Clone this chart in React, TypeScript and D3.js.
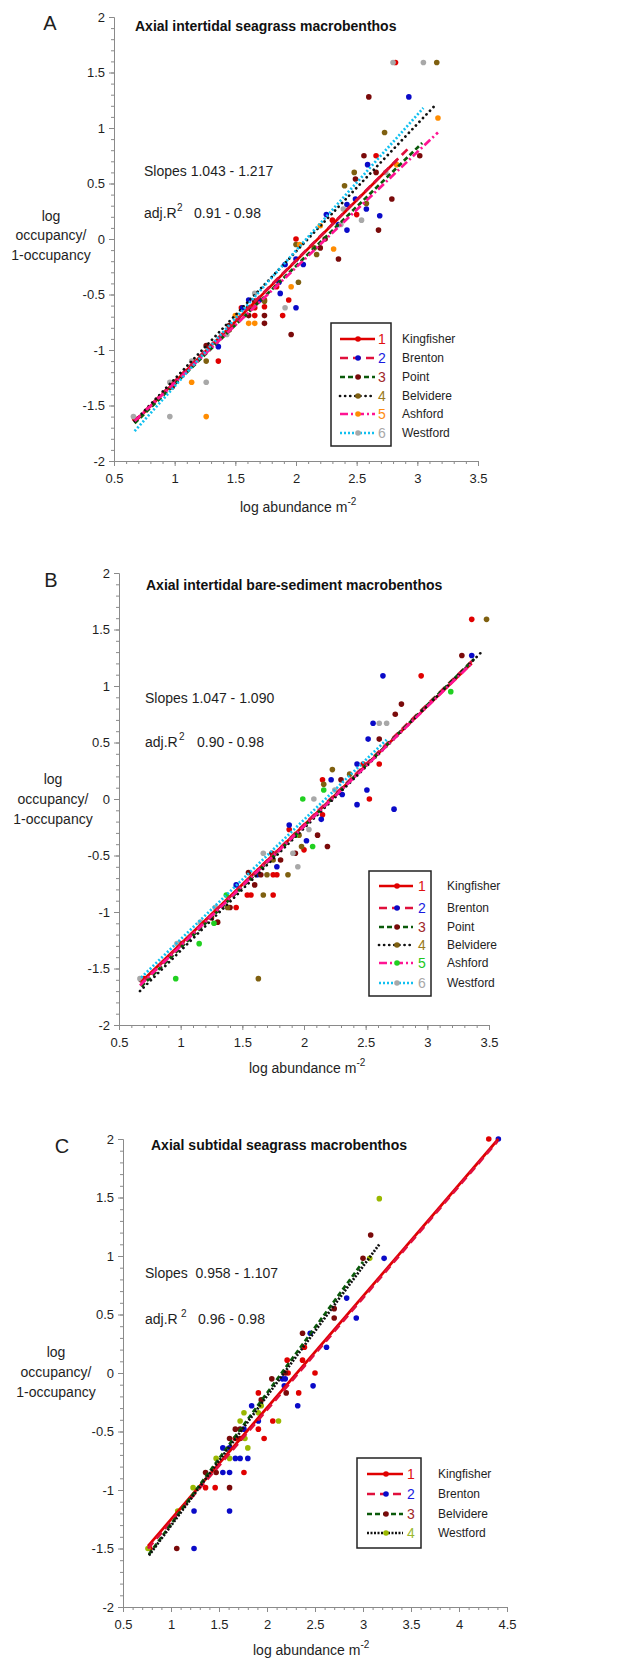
import React, { useEffect, useRef } from 'react';
import * as d3 from 'd3';

type Pt = [number, number];

// ---- A: axial intertidal seagrass ----
const sgKingfisher: Pt[] = [[0.67, -1.62], [1.36, -1.1], [1.55, -0.62], [1.66, -0.69], [1.66, -0.62], [1.74, -0.55], [1.74, -0.61], [1.84, -0.43], [1.89, -0.69], [1.94, -0.55], [2.0, 0.0], [2.3, 0.17], [2.5, 0.22], [2.66, 0.75], [2.82, 1.59]];
const sgBrenton: Pt[] = [[1.36, -0.97], [1.56, -0.62], [1.61, -0.55], [1.7, -0.55], [1.86, -0.39], [1.87, -0.49], [2.0, -0.62], [1.91, -0.23], [2.06, -0.23], [2.0, -0.18], [2.25, 0.22], [2.35, 0.13], [2.42, 0.08], [2.42, 0.31], [2.49, 0.36], [2.58, 0.27], [2.69, 0.21], [2.59, 0.67], [2.93, 1.28]];
const sgPoint: Pt[] = [[0.98, -1.33], [1.26, -0.96], [1.45, -0.78], [1.61, -0.62], [1.61, -0.69], [1.66, -0.56], [1.74, -0.69], [1.74, -0.76], [1.96, -0.86], [2.24, 0.0], [2.2, -0.08], [2.35, -0.18], [2.49, 0.54], [2.56, 0.75], [2.66, 0.6], [2.68, 0.08], [2.79, 0.36], [3.02, 0.75], [2.6, 1.28]];
const sgBelvidere: Pt[] = [[1.26, -1.1], [1.45, -0.82], [1.74, -0.56], [2.0, -0.05], [2.02, -0.39], [2.15, -0.08], [2.17, -0.14], [2.4, 0.48], [2.48, 0.6], [2.58, 0.32], [2.73, 0.96], [3.16, 1.59]];
const sgAshford: Pt[] = [[1.14, -1.29], [1.26, -1.6], [1.5, -0.69], [1.61, -0.76], [1.66, -0.76], [1.96, -0.43], [2.03, -0.05], [2.2, 0.12], [2.31, -0.09], [2.83, 0.67], [3.17, 1.09]];
const sgWestford: Pt[] = [[0.66, -1.6], [0.96, -1.29], [0.96, -1.6], [1.14, -1.1], [1.26, -1.29], [1.43, -0.86], [1.66, -0.49], [1.91, -0.62], [2.37, 0.13], [2.39, 0.27], [2.54, 0.17], [2.74, 0.6], [2.8, 1.59], [3.05, 1.59]];
// fitted lines: [start, end]
const sgFits: Pt[][] = [
  [[0.67, -1.65], [2.83, 0.71]],
  [[0.67, -1.64], [2.93, 0.82]],
  [[0.67, -1.66], [3.04, 0.865]],
  [[0.67, -1.64], [3.16, 1.22]],
  [[0.67, -1.64], [3.17, 0.96]],
  [[0.67, -1.73], [3.05, 1.18]],
];

// ---- B: axial intertidal bare sediment ----
const bsKingfisher: Pt[] = [[3.36, 1.59], [2.95, 1.09], [2.61, 0.31], [2.48, 0.31], [2.15, 0.17], [2.53, 0.0], [2.15, -0.14], [1.88, -0.27], [1.75, -0.67], [1.78, -0.67], [1.54, -0.85], [1.57, -0.85], [1.75, -0.85], [1.45, -0.96], [1.0, -1.28], [0.7, -1.59], [2.0, -0.45], [1.25, -1.05]];
const bsBrenton: Pt[] = [[3.36, 1.27], [2.64, 1.09], [2.56, 0.67], [2.52, 0.53], [2.43, 0.31], [2.22, 0.17], [2.51, 0.08], [2.31, 0.04], [2.43, -0.05], [2.73, -0.09], [2.14, -0.18], [1.88, -0.23], [2.02, -0.37], [1.78, -0.6], [1.62, -0.67], [1.45, -0.76]];
const bsPoint: Pt[] = [[3.28, 1.27], [2.79, 0.84], [2.74, 0.75], [2.61, 0.53], [2.3, 0.17], [2.11, -0.32], [2.19, -0.42], [1.74, -0.48], [1.93, -0.48], [1.81, -0.54], [1.65, -0.67], [1.6, -0.76], [1.4, -0.96], [1.3, -1.09], [0.68, -1.6], [1.55, -0.65]];
const bsBelvidere: Pt[] = [[3.48, 1.59], [2.23, 0.26], [2.37, 0.22], [2.16, 0.13], [1.96, -0.32], [1.98, -0.42], [1.75, -0.54], [1.7, -0.67], [1.87, -0.67], [1.67, -0.85], [1.38, -0.96], [1.63, -1.59]];
const bsAshford: Pt[] = [[3.19, 0.95], [2.16, 0.08], [1.99, 0.0], [1.93, -0.32], [2.07, -0.42], [1.37, -0.85], [1.27, -1.1], [1.15, -1.28], [0.96, -1.59]];
const bsWestford: Pt[] = [[2.61, 0.67], [2.67, 0.67], [2.25, 0.08], [2.08, 0.0], [2.04, -0.27], [1.67, -0.48], [1.91, -0.48], [1.95, -0.6], [1.28, -0.96], [1.16, -1.09], [0.97, -1.28], [0.67, -1.59]];
const bsFits: Pt[][] = [
  [[0.68, -1.62], [3.36, 1.2]],
  [[0.68, -1.63], [3.36, 1.22]],
  [[0.68, -1.66], [3.38, 1.24]],
  [[0.67, -1.7], [3.43, 1.29]],
  [[0.67, -1.65], [3.36, 1.2]],
  [[0.68, -1.58], [2.67, 0.525]],
];

// ---- C: axial subtidal seagrass ----
const stKingfisher: Pt[] = [[4.31, 2.0], [2.39, 0.22], [2.21, 0.11], [2.37, 0.11], [2.22, 0.0], [2.5, 0.0], [1.91, -0.17], [2.33, -0.17], [2.06, -0.41], [1.91, -0.48], [1.67, -0.56], [1.97, -0.56], [1.76, -0.85], [1.46, -0.98], [1.36, -0.98], [0.78, -1.5]];
const stBrenton: Pt[] = [[4.41, 2.0], [3.22, 0.98], [2.83, 0.64], [2.93, 0.47], [2.45, 0.34], [2.62, 0.22], [2.16, -0.05], [2.19, -0.05], [2.48, -0.11], [2.18, -0.11], [1.84, -0.28], [2.32, -0.28], [1.91, -0.41], [1.76, -0.48], [1.54, -0.64], [1.61, -0.64], [1.67, -0.73], [1.72, -0.73], [1.8, -0.73], [1.54, -0.85], [1.61, -0.85], [1.24, -1.18], [1.61, -1.18], [1.24, -1.5]];
const stBelvidere: Pt[] = [[3.08, 1.18], [3.0, 0.98], [2.7, 0.55], [2.7, 0.47], [2.37, 0.34], [2.19, 0.0], [2.05, -0.05], [2.2, -0.17], [1.94, -0.23], [1.67, -0.48], [1.72, -0.48], [1.72, -0.56], [1.61, -0.56], [1.36, -0.85], [1.47, -0.85], [1.61, -0.98], [1.06, -1.5]];
const stWestford: Pt[] = [[3.17, 1.49], [3.07, 0.98], [1.94, -0.28], [1.76, -0.34], [1.91, -0.34], [2.12, -0.41], [1.72, -0.41], [1.77, -0.56], [1.8, -0.64], [1.61, -0.73], [1.47, -0.73], [1.23, -0.98], [1.07, -1.18], [0.76, -1.5]];
const stFits: Pt[][] = [
  [[0.76, -1.48], [4.41, 2.0]],
  [[0.76, -1.5], [4.4, 1.98]],
  [[0.77, -1.55], [3.0, 0.95]],
  [[0.77, -1.56], [3.17, 1.1]],
];

const FONT = 'Arial, "Liberation Sans", Helvetica, sans-serif';
const AXIS = '#8a8a8a';
const INK = '#1e1e1e';

type Style = { line: string; dash: string | null; cap: string; marker: string; num: string };
const kingfisherStyle: Style = { line: '#e00000', dash: null, cap: 'butt', marker: '#e00000', num: '#e01010' };
const brentonStyle: Style = { line: '#e0103c', dash: '8,5', cap: 'butt', marker: '#0a0ac8', num: '#1a1ae0' };
const greenStyle: Style = { line: '#0a5a0a', dash: '5,3', cap: 'butt', marker: '#7a0a0a', num: '#a02828' };
const blackSparse: Style = { line: '#111', dash: '0.1,5', cap: 'round', marker: '#7f6010', num: '#9a7a20' };
const pinkStyle = (m: string, n: string): Style => ({ line: '#ff1493', dash: '8,3,2,3', cap: 'butt', marker: m, num: n });
const cyanStyle: Style = { line: '#10c0f0', dash: '2,2', cap: 'butt', marker: '#a8a8a8', num: '#a8a8a8' };
const blackDense: Style = { line: '#111', dash: '2,1.5', cap: 'butt', marker: '#9ab800', num: '#9ab830' };

const panels = [
  {
    letter: 'A', lx: 50, ly: 30,
    title: 'Axial intertidal seagrass macrobenthos', tx: 135, ty: 31,
    left: 114, right: 478, top: 17, bottom: 461, xMax: 3.5,
    slopes: 'Slopes 1.043 - 1.217', sx: 144, sy: 176, adjY: 218, supX: 177, valX: 194, adj: '0.91 - 0.98',
    ylx: 51, yly: [221, 240, 260], xlx: 240, xly: 512,
    box: [331, 323, 391, 446], lineX: [340, 375], markX: 358, numX: 382, labX: 402,
    rows: [339, 358, 377, 396, 414, 433],
    names: ['Kingfisher', 'Brenton', 'Point', 'Belvidere', 'Ashford', 'Westford'],
    styles: [kingfisherStyle, brentonStyle, greenStyle, blackSparse, pinkStyle('#ff8c00', '#ff8c10'), cyanStyle],
    points: [sgKingfisher, sgBrenton, sgPoint, sgBelvidere, sgAshford, sgWestford],
    fits: sgFits,
  },
  {
    letter: 'B', lx: 51, ly: 587,
    title: 'Axial intertidal bare-sediment macrobenthos', tx: 146, ty: 590,
    left: 119, right: 489, top: 573, bottom: 1025, xMax: 3.5,
    slopes: 'Slopes 1.047 - 1.090', sx: 145, sy: 703, adjY: 747, supX: 179, valX: 197, adj: '0.90 - 0.98',
    ylx: 53, yly: [784, 804, 824], xlx: 249, xly: 1073,
    box: [369, 871, 431, 996], lineX: [379, 413], markX: 397, numX: 422, labX: 447,
    rows: [886, 908, 927, 945, 963, 983],
    names: ['Kingfisher', 'Brenton', 'Point', 'Belvidere', 'Ashford', 'Westford'],
    styles: [kingfisherStyle, brentonStyle, greenStyle, blackSparse, pinkStyle('#20d020', '#20c820'), cyanStyle],
    points: [bsKingfisher, bsBrenton, bsPoint, bsBelvidere, bsAshford, bsWestford],
    fits: bsFits,
  },
  {
    letter: 'C', lx: 62, ly: 1153,
    title: 'Axial subtidal seagrass macrobenthos', tx: 151, ty: 1150,
    left: 123, right: 507, top: 1139, bottom: 1607, xMax: 4.5,
    slopes: 'Slopes  0.958 - 1.107', sx: 145, sy: 1278, adjY: 1324, supX: 181, valX: 198, adj: '0.96 - 0.98',
    ylx: 56, yly: [1357, 1377, 1397], xlx: 253, xly: 1655,
    box: [357, 1458, 421, 1548], lineX: [367, 403], markX: 386, numX: 411, labX: 438,
    rows: [1474, 1494, 1514, 1533],
    names: ['Kingfisher', 'Brenton', 'Belvidere', 'Westford'],
    styles: [kingfisherStyle, brentonStyle, greenStyle, blackDense],
    points: [stKingfisher, stBrenton, stBelvidere, stWestford],
    fits: stFits,
  },
];

function drawPanel(svg: any, p: any) {
  const x = d3.scaleLinear().domain([0.5, p.xMax]).range([p.left, p.right]);
  const y = d3.scaleLinear().domain([-2, 2]).range([p.bottom, p.top]);
  const g = svg.append('g').style('font-family', FONT);

  const xMinor = d3.range(5, Math.round(p.xMax * 10) + 1).map((v) => v / 10);
  const yMinor = d3.range(-20, 21).map((v) => v / 10);
  const xMajor = d3.range(1, Math.round(p.xMax * 2) + 1).map((v) => v / 2);
  const yMajor = d3.range(-4, 5).map((v) => v / 2);
  const fmt = (d: any) => String(d);

  g.append('g')
    .attr('transform', `translate(0,${p.bottom})`)
    .call(d3.axisBottom(x).tickValues(xMinor).tickSize(3).tickSizeOuter(0).tickFormat(() => ''));
  g.append('g')
    .attr('transform', `translate(0,${p.bottom})`)
    .call(d3.axisBottom(x).tickValues(xMajor).tickSize(5).tickPadding(8).tickSizeOuter(0).tickFormat(fmt));
  g.append('g')
    .attr('transform', `translate(${p.left},0)`)
    .call(d3.axisLeft(y).tickValues(yMinor).tickSize(3).tickSizeOuter(0).tickFormat(() => ''));
  g.append('g')
    .attr('transform', `translate(${p.left},0)`)
    .call(d3.axisLeft(y).tickValues(yMajor).tickSize(5).tickPadding(4).tickSizeOuter(0).tickFormat(fmt));

  g.selectAll('.domain, .tick line').attr('stroke', AXIS);
  g.selectAll('.tick text').attr('fill', INK).style('font-size', '13px').style('font-family', FONT);

  // points
  p.points.forEach((pts: Pt[], i: number) => {
    g.append('g')
      .selectAll('circle')
      .data(pts)
      .join('circle')
      .attr('cx', (d: Pt) => x(d[0]))
      .attr('cy', (d: Pt) => y(d[1]))
      .attr('r', 2.8)
      .attr('fill', p.styles[i].marker);
  });

  // fitted lines
  const line = d3.line<Pt>().x((d) => x(d[0])).y((d) => y(d[1]));
  p.fits.forEach((f: Pt[], i: number) => {
    const s: Style = p.styles[i];
    g.append('path')
      .attr('d', line(f))
      .attr('fill', 'none')
      .attr('stroke', s.line)
      .attr('stroke-width', 2.7)
      .attr('stroke-linecap', s.cap)
      .attr('stroke-dasharray', s.dash);
  });

  // texts
  g.append('text').attr('x', p.lx).attr('y', p.ly).attr('text-anchor', 'middle')
    .style('font-size', '20px').attr('fill', INK).text(p.letter);
  g.append('text').attr('x', p.tx).attr('y', p.ty)
    .style('font-size', '14px').style('font-weight', 'bold').attr('fill', '#111').text(p.title);
  g.append('text').attr('x', p.sx).attr('y', p.sy)
    .style('font-size', '14px').style('white-space', 'pre').attr('fill', INK).text(p.slopes);
  g.append('text').attr('x', p.sx).attr('y', p.adjY)
    .style('font-size', '14px').attr('fill', INK).text('adj.R');
  g.append('text').attr('x', p.supX).attr('y', p.adjY - 7)
    .style('font-size', '10px').attr('fill', INK).text('2');
  g.append('text').attr('x', p.valX).attr('y', p.adjY)
    .style('font-size', '14px').attr('fill', INK).text(p.adj);

  ['log', 'occupancy/', '1-occupancy'].forEach((t, i) => {
    g.append('text').attr('x', p.ylx).attr('y', p.yly[i]).attr('text-anchor', 'middle')
      .style('font-size', '14px').attr('fill', INK).text(t);
  });

  const xl = g.append('text').attr('x', p.xlx).attr('y', p.xly)
    .style('font-size', '14px').attr('fill', INK);
  xl.append('tspan').text('log abundance m');
  xl.append('tspan').attr('dy', -7).style('font-size', '10px').text('-2');

  // legend
  const [bx0, by0, bx1, by1] = p.box;
  g.append('rect').attr('x', bx0).attr('y', by0).attr('width', bx1 - bx0).attr('height', by1 - by0)
    .attr('fill', '#fff').attr('stroke', '#222').attr('stroke-width', 1.5);
  p.names.forEach((name: string, i: number) => {
    const s: Style = p.styles[i];
    const ry = p.rows[i];
    g.append('line').attr('x1', p.lineX[0]).attr('x2', p.lineX[1]).attr('y1', ry).attr('y2', ry)
      .attr('stroke', s.line).attr('stroke-width', 2.7)
      .attr('stroke-linecap', s.cap).attr('stroke-dasharray', s.dash);
    g.append('circle').attr('cx', p.markX).attr('cy', ry).attr('r', 2.8).attr('fill', s.marker);
    g.append('text').attr('x', p.numX).attr('y', ry).attr('dy', '0.36em').attr('text-anchor', 'middle')
      .style('font-size', '14px').attr('fill', s.num).text(String(i + 1));
    g.append('text').attr('x', p.labX).attr('y', ry).attr('dy', '0.34em')
      .style('font-size', '12px').attr('fill', INK).text(name);
  });
}

const App = () => {
  const ref = useRef<SVGSVGElement>(null);

  useEffect(() => {
    const svg = d3.select(ref.current);
    svg.selectAll('*').remove();
    panels.forEach((p) => drawPanel(svg, p));
    return () => {
      svg.selectAll('*').remove();
    };
  }, []);

  return (
    <svg
      ref={ref}
      width={639}
      height={1660}
      style={{ position: 'absolute', left: 0, top: 0, background: '#fff', display: 'block' }}
    />
  );
};

export default App;
